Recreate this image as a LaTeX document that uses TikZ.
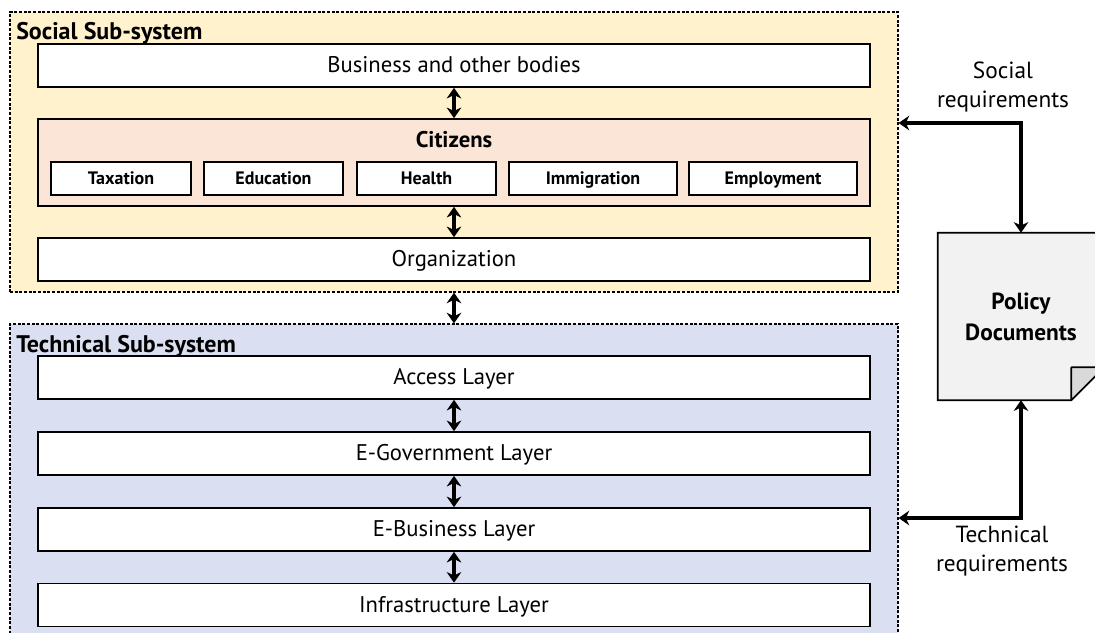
\documentclass[tikz,border=0pt]{standalone}
\usepackage{fontspec}
\setmainfont{PT Sans}
\usetikzlibrary{arrows.meta,calc}
\definecolor{socialfill}{HTML}{FFF2CC}
\definecolor{citizenfill}{HTML}{FBE5D6}
\definecolor{techfill}{HTML}{DAE0F2}
\definecolor{docfill}{HTML}{F2F2F2}
\definecolor{foldfill}{HTML}{D9D9D9}
\tikzset{
  subsys/.style={draw=black, line width=0.9pt, dash pattern=on 2.2pt off 1.3pt, inner sep=0pt},
  layerbox/.style={draw=black, line width=1.2pt, fill=white, inner sep=0pt,
    minimum width=624pt, minimum height=32.25pt, font=\fontsize{17}{20}\selectfont,
    text height=13pt, text depth=2pt},
  areabox/.style={draw=black, line width=1.2pt, fill=white, inner sep=0pt,
    minimum height=24.75pt, font=\bfseries\fontsize{13.5}{16}\selectfont,
    text height=11pt, text depth=2pt},
  title/.style={font=\bfseries\fontsize{18}{21}\selectfont, inner sep=0pt, anchor=base west},
  dbl/.style={line width=2.4pt, {Stealth[length=8pt,width=11pt]}-{Stealth[length=8pt,width=11pt]}},
  req/.style={font=\fontsize{17.5}{22}\selectfont, align=center, inner sep=0pt}
}
\begin{document}
\begin{tikzpicture}[x=0.75pt,y=-0.75pt]
\clip (0,0) rectangle (1095,632);
\fill[white] (0,0) rectangle (1095,632);

% social sub-system
\node[subsys, fill=socialfill, minimum width=666pt, minimum height=210pt] (social) at (454,152) {};
\node[title] (socialtitle) at (16,39) {Social Sub-system};
\node[layerbox] (biz) at (454,65.5) {Business and other bodies};
\node[layerbox, fill=citizenfill, minimum height=65.25pt] (cit) at (454,162.5) {};
\node[font=\bfseries\fontsize{17}{20}\selectfont, inner sep=0pt] (cittitle) at (454,140) {Citizens};
\node[areabox, minimum width=105pt] (tax) at (121,178.5) {Taxation};
\node[areabox, minimum width=104.25pt] (edu) at (273.5,178.5) {Education};
\node[areabox, minimum width=104.25pt] (hea) at (426.5,178.5) {Health};
\node[areabox, minimum width=126pt] (imm) at (593,178.5) {Immigration};
\node[areabox, minimum width=126pt] (emp) at (773,178.5) {Employment};
\node[layerbox] (org) at (454,259.5) {Organization};
\draw[dbl] (biz.south) -- (cit.north);
\draw[dbl] (cit.south) -- (org.north);

% technical sub-system
\node[subsys, fill=techfill, minimum width=666pt, minimum height=237pt] (tech) at (454,482) {};
\node[title] (techtitle) at (16,352) {Technical Sub-system};
\node[layerbox] (acc) at (454,377.5) {Access Layer};
\node[layerbox] (egov) at (454,453.5) {E-Government Layer};
\node[layerbox] (ebus) at (454,529.5) {E-Business Layer};
\node[layerbox] (infra) at (454,605) {Infrastructure Layer};
\draw[dbl] (social.south) -- (tech.north);
\draw[dbl] (acc.south) -- (egov.north);
\draw[dbl] (egov.south) -- (ebus.north);
\draw[dbl] (ebus.south) -- (infra.north);

% policy documents page with folded corner
\node[minimum width=124.5pt, minimum height=125.25pt, inner sep=0pt] (doc) at (1021,316.5) {};
\draw[line width=1.2pt, fill=docfill]
  (doc.north west) -- (doc.north east) -- ($(doc.south east)+(0,-33)$)
  -- ($(doc.south east)+(-33,0)$) -- (doc.south west) -- cycle;
\draw[line width=1.2pt, fill=foldfill, line join=round]
  ($(doc.south east)+(-33,0)$) -- ($(doc.south east)+(-33,-33)$) -- ($(doc.south east)+(0,-33)$) -- cycle;
\node[font=\bfseries\fontsize{17.5}{23}\selectfont, align=center, inner sep=0pt]
  (doctext) at (1021,317) {Policy\\Documents};

% requirement links
\coordinate (sreq) at (1021,123);
\coordinate (treq) at (1021,518);
\draw[dbl] (social.east |- sreq) -- (sreq) -- (doc.north);
\draw[dbl] (tech.east |- treq) -- (treq) -- (doc.south);
\node[req] (slabel) at (1003,87) {Social\\requirements};
\node[req] (tlabel) at (1002,551) {Technical\\requirements};
\end{tikzpicture}
\end{document}
